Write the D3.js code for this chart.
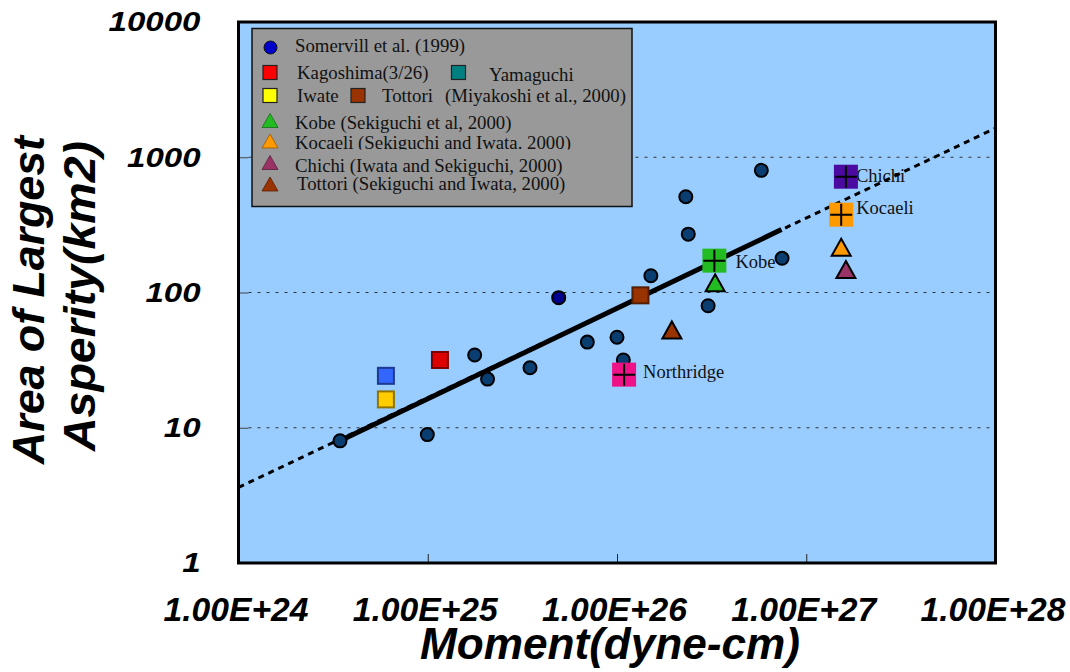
<!DOCTYPE html>
<html>
<head>
<meta charset="utf-8">
<script src="https://cdn.jsdelivr.net/npm/d3@7"></script>
<style>
  body { margin: 0; background: #fff; }
  svg { display: block; }
</style>
</head>
<body>
<svg id="chart" width="1070" height="672"></svg>
<script>
// --- data ---
// Somerville et al. (1999) events
const somervilleMoment = [3.44e24, 9.95e24, 1.77e25, 2.07e25, 3.47e25, 6.97e25, 1.0e26, 1.08e26, 1.51e26, 2.31e26, 2.38e26, 3.03e26, 5.79e26, 7.45e26];
const somervilleArea   = [8.0, 8.9, 34.5, 22.9, 27.8, 43, 46.7, 31.7, 133, 511, 270, 79.8, 800, 179];
const blueCircleMoment = [4.92e25];
const blueCircleArea   = [91.6];

// square events (Miyakoshi et al.)
const squareNames  = ["Yamaguchi", "Iwate", "Kagoshima(3/26)", "Tottori"];
const squareMoment = [6.01e24, 6.01e24, 1.16e25, 1.33e26];
const squareArea   = [24.2, 16.2, 31.7, 95.3];
const squareColors = ["#3366ff", "#ffcc00", "#dd0000", "#993300"];

// squares with a cross (labelled events)
const crossNames  = ["Northridge", "Kobe", "Kocaeli", "Chichi"];
const crossMoment = [1.09e26, 3.27e26, 1.53e27, 1.62e27];
const crossArea   = [24.7, 172, 376, 718];
const crossColors = ["#ee1188", "#22bb22", "#ff9900", "#4b0aa0"];

// triangles (Sekiguchi / Iwata)
const triNames  = ["Kobe", "Tottori", "Kocaeli", "Chichi"];
const triMoment = [3.30e26, 1.95e26, 1.53e27, 1.62e27];
const triArea   = [118, 52.9, 216, 148];
const triColors = ["#22bb22", "#993300", "#ff9900", "#993366"];

// scaling relation
const fitMoment   = [1e24, 1e28];
const fitArea     = [3.62, 1640];
const solidMoment = [3.44e24, 7.4e26];
const solidArea   = [8.0, 292];

const xTicks = [1e24, 1e25, 1e26, 1e27, 1e28];
const xTickLabels = ["1.00E+24", "1.00E+25", "1.00E+26", "1.00E+27", "1.00E+28"];
const yTicks = [1, 10, 100, 1000, 10000];
const yTickLabels = ["1", "10", "100", "1000", "10000"];
const gridValues = [10, 100, 1000];
const innerXTicks = [1e25, 1e26, 1e27];

// label placement next to the cross markers (pixels)
const crossLabelDx = [19, 21, 15, 10];
const crossLabelDy = [3, 7.5, -0.5, 5];

const svg = d3.select("#chart");
const plotLeft = 238.5, plotRight = 995.5, plotTop = 22, plotBottom = 563;
const x = d3.scaleLog().domain([1e24, 1e28]).range([plotLeft, plotRight]);
const y = d3.scaleLog().domain([1, 10000]).range([plotBottom, plotTop]);

const sansFont = "'Liberation Sans', Arial, Helvetica, sans-serif";
const serifFont = "'Liberation Serif', 'Times New Roman', Times, serif";

// plot background
svg.append("rect").attr("x", plotLeft).attr("y", plotTop)
    .attr("width", plotRight - plotLeft).attr("height", plotBottom - plotTop)
    .attr("fill", "#99ccff");

// grid lines (dotted) and small inner ticks
svg.append("g").selectAll("line").data(gridValues).enter().append("line")
    .attr("x1", plotLeft + 10).attr("x2", plotRight)
    .attr("y1", d => y(d)).attr("y2", d => y(d))
    .attr("stroke", "#333").attr("stroke-width", 1).attr("stroke-dasharray", "3,6");

svg.append("g").attr("transform", `translate(${plotLeft},0)`)
    .call(d3.axisLeft(y).tickValues(gridValues).tickSizeInner(-10).tickSizeOuter(0).tickFormat(""))
    .call(g => g.select(".domain").remove())
    .selectAll("line").attr("stroke", "#444");

svg.append("g").attr("transform", `translate(0,${plotBottom})`)
    .call(d3.axisBottom(x).tickValues(innerXTicks).tickSizeInner(-9).tickSizeOuter(0).tickFormat(""))
    .call(g => g.select(".domain").remove())
    .selectAll("line").attr("stroke", "#222");

// point labels
svg.append("g").selectAll("text").data(crossNames).enter().append("text")
    .attr("x", (d, i) => x(crossMoment[i]) + crossLabelDx[i])
    .attr("y", (d, i) => y(crossArea[i]) + crossLabelDy[i])
    .attr("font-family", serifFont).attr("font-size", 18.5).attr("fill", "#111")
    .text(d => d);

// fit lines
const line = d3.line().x(d => x(d[0])).y(d => y(d[1]));
svg.append("path").datum(d3.zip(fitMoment, fitArea))
    .attr("d", line).attr("fill", "none")
    .attr("stroke", "#000").attr("stroke-width", 3).attr("stroke-dasharray", "6,5");
svg.append("path").datum(d3.zip(solidMoment, solidArea))
    .attr("d", line).attr("fill", "none")
    .attr("stroke", "#000").attr("stroke-width", 5);

// markers
const tri = (cx, cy, w, h) => `M${cx},${cy - h / 2}L${cx + w / 2},${cy + h / 2}L${cx - w / 2},${cy + h / 2}Z`;

svg.append("g").selectAll("path").data(triNames).enter().append("path")
    .attr("d", (d, i) => tri(x(triMoment[i]), y(triArea[i]), 19, 17))
    .attr("fill", (d, i) => triColors[i]).attr("stroke", "#000").attr("stroke-width", 2)
    .attr("stroke-linejoin", "miter");

svg.append("g").selectAll("circle").data(somervilleMoment).enter().append("circle")
    .attr("cx", d => x(d)).attr("cy", (d, i) => y(somervilleArea[i]))
    .attr("r", 6.5).attr("fill", "#0a3d70").attr("stroke", "#000").attr("stroke-width", 2);

svg.append("g").selectAll("circle").data(blueCircleMoment).enter().append("circle")
    .attr("cx", d => x(d)).attr("cy", (d, i) => y(blueCircleArea[i]))
    .attr("r", 6.5).attr("fill", "#000090").attr("stroke", "#000").attr("stroke-width", 2);

svg.append("g").selectAll("rect").data(squareNames).enter().append("rect")
    .attr("x", (d, i) => x(squareMoment[i]) - 8).attr("y", (d, i) => y(squareArea[i]) - 8)
    .attr("width", 16).attr("height", 16)
    .attr("fill", (d, i) => squareColors[i])
    .attr("stroke", (d, i) => d3.color(squareColors[i]).darker(1.6)).attr("stroke-width", 2);

const crosses = svg.append("g").selectAll("g").data(crossNames).enter().append("g")
    .attr("transform", (d, i) => `translate(${x(crossMoment[i])},${y(crossArea[i])})`);
crosses.append("rect").attr("x", -12).attr("y", -12).attr("width", 24).attr("height", 24)
    .attr("fill", (d, i) => crossColors[i]);
crosses.append("path").attr("d", "M-11,0H11M0,-11V11")
    .attr("stroke", "#000").attr("stroke-width", 2);

// legend
const legend = svg.append("g");
legend.append("rect").attr("x", 252).attr("y", 28.5).attr("width", 380).attr("height", 178)
    .attr("fill", "#999999").attr("stroke", "#111").attr("stroke-width", 1.5);

const legendTexts = [
    { t: "Somervill et al. (1999)", x: 295, y: 52 },
    { t: "Kagoshima(3/26)", x: 297, y: 79 },
    { t: "Yamaguchi", x: 489, y: 81 },
    { t: "Iwate", x: 297, y: 101.5 },
    { t: "Tottori", x: 382, y: 101.5 },
    { t: "(Miyakoshi et al., 2000)", x: 445, y: 101.5 },
    { t: "Kobe (Sekiguchi et al, 2000)", x: 295, y: 128.5 },
    { t: "Kocaeli (Sekiguchi and Iwata. 2000)", x: 295, y: 148.5, clip: true },
    { t: "Chichi (Iwata and Sekiguchi, 2000)", x: 295, y: 171.5 },
    { t: "Tottori (Sekiguchi and Iwata, 2000)", x: 297, y: 190 }
];
svg.append("clipPath").attr("id", "kocaeliClip")
    .append("rect").attr("x", 252).attr("y", 130).attr("width", 380).attr("height", 19.5);
legend.selectAll("text").data(legendTexts).enter().append("text")
    .attr("x", d => d.x).attr("y", d => d.y)
    .attr("clip-path", d => d.clip ? "url(#kocaeliClip)" : null)
    .attr("font-family", serifFont).attr("font-size", 18.8).attr("fill", "#111")
    .text(d => d.t);

const legendSquares = [
    { x: 270, y: 72.5, c: "#ff0000" },
    { x: 458.5, y: 72.5, c: "#008080" },
    { x: 270, y: 95.5, c: "#ffff00" },
    { x: 358, y: 95.5, c: "#993300" }
];
legend.selectAll("rect.sq").data(legendSquares).enter().append("rect").attr("class", "sq")
    .attr("x", d => d.x - 7).attr("y", d => d.y - 7).attr("width", 14).attr("height", 14)
    .attr("fill", d => d.c).attr("stroke", "#222").attr("stroke-width", 1.2);
legend.append("circle").attr("cx", 270.5).attr("cy", 47.5).attr("r", 6.5)
    .attr("fill", "#0000cc").attr("stroke", "#111").attr("stroke-width", 1);
const legendTris = [
    { y: 120.5, c: "#22bb22" },
    { y: 141, c: "#ff9900" },
    { y: 162.5, c: "#993366" },
    { y: 184, c: "#993300" }
];
legend.selectAll("path").data(legendTris).enter().append("path")
    .attr("d", d => tri(270, d.y, 16, 14))
    .attr("fill", d => d.c).attr("stroke", d => d3.color(d.c).darker(1.5)).attr("stroke-width", 0.8);

// frame
svg.append("rect").attr("x", plotLeft).attr("y", plotTop)
    .attr("width", plotRight - plotLeft).attr("height", plotBottom - plotTop)
    .attr("fill", "none").attr("stroke", "#000").attr("stroke-width", 3);

// axis labels
const yAxis = svg.append("g").attr("transform", `translate(${plotLeft},0)`)
    .call(d3.axisLeft(y).tickValues(yTicks).tickSize(0).tickPadding(38)
        .tickFormat((d, i) => yTickLabels[i]));
yAxis.select(".domain").remove();
yAxis.selectAll("text")
    .attr("font-family", sansFont).attr("font-size", 28)
    .attr("font-weight", "bold").attr("font-style", "italic").attr("fill", "#000")
    .each(function () {
        const w = this.getComputedTextLength();
        d3.select(this).attr("textLength", w * 1.18).attr("lengthAdjust", "spacingAndGlyphs");
    });

const xAxis = svg.append("g").attr("transform", `translate(-3,${plotBottom})`)
    .call(d3.axisBottom(x).tickValues(xTicks).tickSize(0).tickPadding(0)
        .tickFormat((d, i) => xTickLabels[i]));
xAxis.select(".domain").remove();
xAxis.selectAll("text")
    .attr("dy", null).attr("y", 58)
    .attr("font-family", sansFont).attr("font-size", 34)
    .attr("font-weight", "bold").attr("font-style", "italic").attr("fill", "#000")
    .attr("textLength", 145).attr("lengthAdjust", "spacingAndGlyphs");

// axis titles
svg.append("text").attr("x", 610).attr("y", 659)
    .attr("text-anchor", "middle")
    .attr("font-family", sansFont).attr("font-size", 45)
    .attr("font-weight", "bold").attr("font-style", "italic")
    .attr("textLength", 380).attr("lengthAdjust", "spacingAndGlyphs")
    .text("Moment(dyne-cm)");

const yTitle = ["Area of Largest", "Asperity(km2)"];
const yTitleLen = [328, 310];
const yTitlePos = [[44, 300], [95, 296]];
svg.append("g").selectAll("text").data(yTitle).enter().append("text")
    .attr("transform", (d, i) => `translate(${yTitlePos[i][0]},${yTitlePos[i][1]}) rotate(-90)`)
    .attr("text-anchor", "middle")
    .attr("font-family", sansFont).attr("font-size", 44)
    .attr("font-weight", "bold").attr("font-style", "italic")
    .attr("textLength", (d, i) => yTitleLen[i]).attr("lengthAdjust", "spacingAndGlyphs")
    .text(d => d);
</script>
</body>
</html>
